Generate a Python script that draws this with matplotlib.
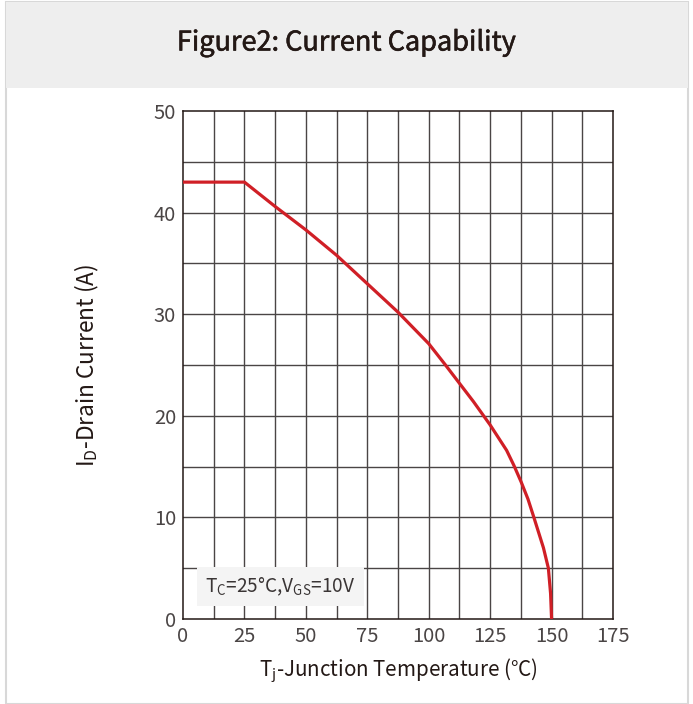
import matplotlib
matplotlib.use("Agg")
import matplotlib.pyplot as plt
import matplotlib.patheffects as pe
from matplotlib.patches import Rectangle

plt.rcParams['font.family'] = ['Noto Sans CJK SC', 'DejaVu Sans']
plt.rcParams['mathtext.fontset'] = 'custom'
plt.rcParams['mathtext.rm'] = 'Noto Sans CJK SC'
plt.rcParams['mathtext.it'] = 'Noto Sans CJK SC'

# values
temp = [0, 25, 37.5, 50, 62.5, 75, 87.5, 100, 106.5, 112.5, 118.2,
        125, 131.7, 134.7, 137.6, 140.4, 142.8, 146.7, 148.7, 149.6, 150]
current = [43, 43, 40.6, 38.3, 35.8, 33.0, 30.2, 27.1, 25.1, 23.2, 21.4,
           19.1, 16.6, 15.1, 13.5, 11.8, 10.0, 7.0, 5.0, 2.5, 0]
x_ticks = [0, 25, 50, 75, 100, 125, 150, 175]
y_ticks = [0, 10, 20, 30, 40, 50]

fig = plt.figure(figsize=(6.93, 7.04), dpi=100)

# outer frame and title band
fig.patches.append(Rectangle((6 / 693, 0), 682 / 693, 702 / 704, transform=fig.transFigure,
                             facecolor='white', edgecolor='#d8d8d8', lw=1.5, zorder=-10))
fig.patches.append(Rectangle((6 / 693, 1 - 88 / 704), 682 / 693, 86 / 704, transform=fig.transFigure,
                             facecolor='#eeeeee', edgecolor='none', zorder=-9))
fig.text(0.5, 1 - 43 / 704, 'Figure2: Current Capability', ha='center', va='center',
         fontsize=19.5, color='#231815',
         path_effects=[pe.withStroke(linewidth=0.4, foreground='#231815')])

ax = fig.add_axes([183 / 693, 1 - 619 / 704, 430 / 693, 508 / 704])
ax.set_zorder(2)
ax.set_xlim(0, 175)
ax.set_ylim(0, 50)

grid_c = '#4a4545'
for gx in [i * 12.5 for i in range(1, 14)]:
    ax.axvline(gx, color=grid_c, lw=1.0, zorder=1)
for gy in range(5, 50, 5):
    ax.axhline(gy, color=grid_c, lw=1.0, zorder=1)
for s in ax.spines.values():
    s.set_color('#231815')
    s.set_linewidth(1.1)

ax.plot(temp, current, color='#d01f26', lw=2.3, zorder=4, solid_capstyle='butt',
        solid_joinstyle='round')

ax.set_xticks(x_ticks)
ax.set_yticks(y_ticks)
ax.tick_params(length=0, labelsize=14.5, labelcolor='#4a4545', pad=5)
for lab in ax.get_xticklabels() + ax.get_yticklabels():
    lab.set_fontweight('light')

ax.set_xlabel(r'T$_\mathregular{j}$-Junction Temperature (°C)', fontsize=14.8,
              color='#231815', labelpad=7)
ax.set_ylabel(r'I$_\mathregular{D}$-Drain Current (A)', fontsize=16.3,
              color='#231815', labelpad=38)

ax.text(9, 3.2, r'T$_\mathregular{C}$=25°C,V$_\mathregular{GS}$=10V', fontsize=13.7,
        fontweight='light', color='#3a3535', va='center', ha='left', zorder=5,
        bbox=dict(facecolor='#f4f4f4', edgecolor='none', pad=6))

fig.savefig('out.png', dpi=100)
